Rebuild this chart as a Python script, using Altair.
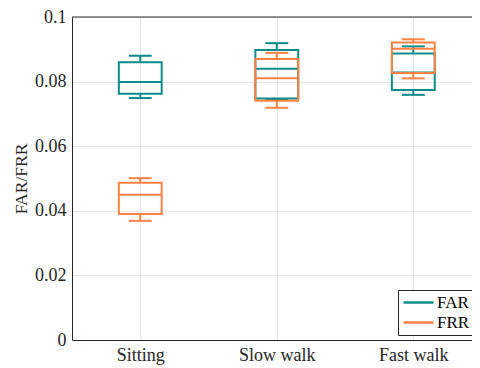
import altair as alt
import pandas as pd

categories = ["Sitting", "Slow walk", "Fast walk"]
series = ["FAR", "FRR"]

far_lo = [0.0749, 0.0745, 0.0759]
far_q1 = [0.0762, 0.0748, 0.0774]
far_med = [0.0799, 0.0840, 0.0828]
far_q3 = [0.0860, 0.0898, 0.0887]
far_hi = [0.0880, 0.0919, 0.0909]

frr_lo = [0.0369, 0.0719, 0.0810]
frr_q1 = [0.0390, 0.0741, 0.0827]
frr_med = [0.0450, 0.0810, 0.0902]
frr_q3 = [0.0487, 0.0870, 0.0921]
frr_hi = [0.0501, 0.0889, 0.0931]

colors = ["#0b8c8a", "#ff8143"]
FONT = "Liberation Serif, Times New Roman, serif"
TXT = "#262626"

rows = []
for s, (lo, q1, md, q3, hi) in zip(series, [
        (far_lo, far_q1, far_med, far_q3, far_hi),
        (frr_lo, frr_q1, frr_med, frr_q3, frr_hi)]):
    for i, c in enumerate(categories):
        rows.append(dict(series=s, cat=c, pos=i + 1, lo=lo[i], q1=q1[i],
                         med=md[i], q3=q3[i], hi=hi[i]))
df = pd.DataFrame(rows)

label_expr = "[" + ",".join("'%s'" % c for c in categories) + "][datum.value - 1]"

xscale = alt.Scale(domain=[0.5, 3.43], nice=False, zero=False)
yscale = alt.Scale(domain=[0, 0.1], nice=False)

x_axis = alt.Axis(values=[1, 2, 3], labelExpr=label_expr, title=None,
                  labelFont=FONT)
y_axis = alt.Axis(values=[0, 0.02, 0.04, 0.06, 0.08, 0.1], format="~g",
                  title="FAR/FRR", labelFont=FONT)

color = alt.Color("series:N", scale=alt.Scale(domain=series, range=colors),
                  sort=series, legend=alt.Legend(title=None, labelFont=FONT))

base = alt.Chart(df).transform_calculate(
    xl="datum.pos - 0.157", xr="datum.pos + 0.157",
    cl="datum.pos - 0.084", cr="datum.pos + 0.084")

layers = []
for s in series:
    b = base.transform_filter(alt.datum.series == s)
    box = b.mark_rect(filled=False, strokeWidth=2).encode(
        x=alt.X("xl:Q", scale=xscale, axis=x_axis),
        x2="xr:Q",
        y=alt.Y("q1:Q", scale=yscale, axis=y_axis),
        y2="q3:Q",
        color=color)
    med = b.mark_rule(strokeWidth=2).encode(
        x="xl:Q", x2="xr:Q", y="med:Q", color=color)
    wh_hi = b.mark_rule(strokeWidth=2).encode(
        x="pos:Q", y="q3:Q", y2="hi:Q", color=color)
    wh_lo = b.mark_rule(strokeWidth=2).encode(
        x="pos:Q", y="lo:Q", y2="q1:Q", color=color)
    cap_hi = b.mark_rule(strokeWidth=2).encode(
        x="cl:Q", x2="cr:Q", y="hi:Q", color=color)
    cap_lo = b.mark_rule(strokeWidth=2).encode(
        x="cl:Q", x2="cr:Q", y="lo:Q", color=color)
    layers += [box, med, wh_hi, wh_lo, cap_hi, cap_lo]

top_line = alt.Chart(pd.DataFrame({"a": [0]})).mark_rule(
    color=TXT, strokeWidth=1).encode(
    x=alt.value(0), x2=alt.value(400), y=alt.value(0))

chart = alt.layer(*layers, top_line).properties(
    width=400, height=323,
    autosize=alt.AutoSizeParams(type="none"),
    padding={"left": 64, "top": 9, "right": 0, "bottom": 26},
).configure(
    background="white", font=FONT,
    style={"guide-label": {"font": FONT}, "guide-title": {"font": FONT}}
).configure_view(stroke=None).configure_axis(
    grid=True, ticks=False, labelPadding=6,
    labelFont=FONT, labelFontSize=18, labelColor=TXT,
    titleFont=FONT, titleFontSize=17.5, titleFontWeight="normal",
    titleColor=TXT, titlePadding=4,
    domainColor=TXT, gridColor="#e8e8e8", labelFlush=False
).configure_legend(
    orient="none", legendX=326, legendY=273,
    symbolType="stroke", symbolSize=900, clipHeight=17,
    symbolStrokeWidth=2.5, labelFont=FONT,
    labelFontSize=17, labelColor="#000000",
    labelOffset=2, rowPadding=2, padding=4,
    strokeColor=TXT, fillColor="white"
)

chart.save("out.html", embed_options={"renderer": "svg", "actions": False})
